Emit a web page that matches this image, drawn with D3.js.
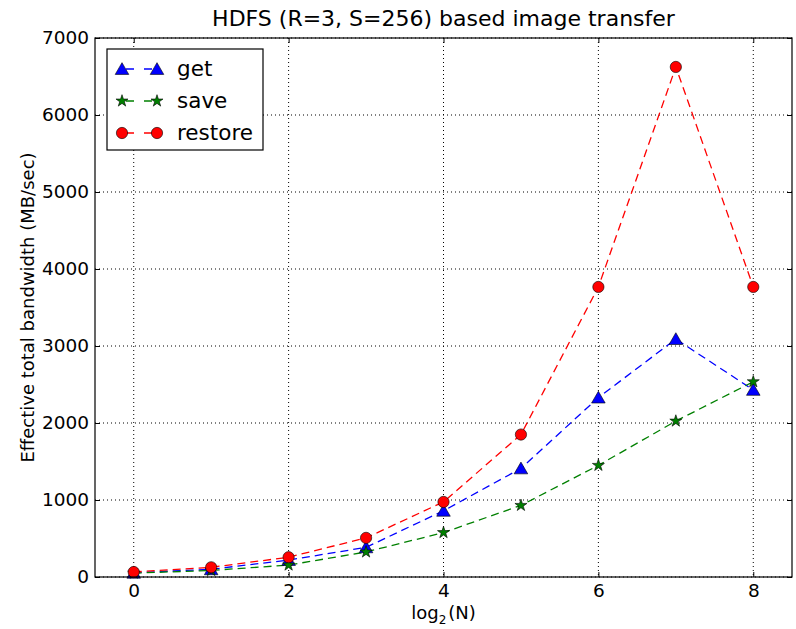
<!DOCTYPE html>
<html>
<head>
<meta charset="utf-8">
<script src="https://cdn.jsdelivr.net/npm/d3@7"></script>
<style>
body { margin: 0; background: #fff; }
text { font-family: "DejaVu Sans", sans-serif; }
</style>
</head>
<body>
<div id="chart"></div>
<script>
// data
var xs = [0, 1, 2, 3, 4, 5, 6, 7, 8];
var getVals = [55, 100, 220, 385, 860, 1410, 2330, 3090, 2430];
var saveVals = [50, 85, 155, 325, 577, 930, 1450, 2025, 2536];
var restoreVals = [65, 126, 257, 508, 975, 1850, 3767, 6624, 3767];
var xTicks = [0, 2, 4, 6, 8];
var yTicks = [0, 1000, 2000, 3000, 4000, 5000, 6000, 7000];

var series = [
    {name: "get", values: getVals, color: "#0000ff", marker: "triangle"},
    {name: "save", values: saveVals, color: "#008000", marker: "star"},
    {name: "restore", values: restoreVals, color: "#ff0000", marker: "circle"}
];

var width = 796, height = 629;
var margin = {left: 95, right: 4, top: 38, bottom: 52};
var iw = width - margin.left - margin.right;
var ih = height - margin.top - margin.bottom;

var svg = d3.select("#chart").append("svg")
    .attr("width", width)
    .attr("height", height);

var x = d3.scaleLinear().domain([-0.5, 8.5]).range([0, iw]);
var y = d3.scaleLinear().domain([0, 7000]).range([ih, 0]);

var g = svg.append("g")
    .attr("transform", "translate(" + margin.left + "," + margin.top + ")");

// grid
g.selectAll(".vgrid").data(xTicks).enter().append("line")
    .attr("x1", function(d) { return x(d); }).attr("x2", function(d) { return x(d); })
    .attr("y1", 0).attr("y2", ih)
    .attr("stroke", "#000").attr("stroke-width", 1).attr("stroke-dasharray", "1,3");
g.selectAll(".hgrid").data(yTicks).enter().append("line")
    .attr("y1", function(d) { return y(d); }).attr("y2", function(d) { return y(d); })
    .attr("x1", 0).attr("x2", iw)
    .attr("stroke", "#000").attr("stroke-width", 1).attr("stroke-dasharray", "1,3");

// axes with inward ticks on all sides
var fmt = d3.format("d");
var xAxisB = d3.axisBottom(x).tickValues(xTicks).tickFormat(fmt).tickSizeInner(-5).tickSizeOuter(0).tickPadding(7);
var xAxisT = d3.axisTop(x).tickValues(xTicks).tickSizeInner(-5).tickSizeOuter(0).tickFormat("");
var yAxisL = d3.axisLeft(y).tickValues(yTicks).tickFormat(fmt).tickSizeInner(-5).tickSizeOuter(0).tickPadding(6);
var yAxisR = d3.axisRight(y).tickValues(yTicks).tickSizeInner(-5).tickSizeOuter(0).tickFormat("");

function styleAxis(sel) {
    sel.select(".domain").remove();
    sel.selectAll("text").attr("font-size", 18.5).attr("fill", "#000")
        .style("font-family", "DejaVu Sans");
    sel.selectAll("line").attr("stroke", "#000");
}
g.append("g").attr("transform", "translate(0," + ih + ")").call(xAxisB).call(styleAxis);
g.append("g").call(xAxisT).call(styleAxis);
g.append("g").call(yAxisL).call(styleAxis);
g.append("g").attr("transform", "translate(" + iw + ",0)").call(yAxisR).call(styleAxis);

// lines
var line = d3.line()
    .x(function(d, i) { return x(xs[i]); })
    .y(function(d) { return y(d); });

function markerPath(m) {
    return m === "triangle" ? d3.symbol().type(d3.symbolTriangle).size(80)() :
           m === "star" ? d3.symbol().type(d3.symbolStar).size(45)() :
           d3.symbol().type(d3.symbolCircle).size(100)();
}

series.forEach(function(s) {
    g.append("path")
        .datum(s.values)
        .attr("d", line)
        .attr("fill", "none")
        .attr("stroke", s.color)
        .attr("stroke-width", 1.3)
        .attr("stroke-dasharray", "8,5");
});
series.forEach(function(s) {
    g.selectAll(".m-" + s.name).data(s.values).enter().append("path")
        .attr("transform", function(d, i) {
            var dy = s.marker === "triangle" ? 1.5 : 0;
            return "translate(" + x(xs[i]) + "," + (y(d) + dy) + ")";
        })
        .attr("d", markerPath(s.marker))
        .attr("fill", s.color)
        .attr("stroke", "#000")
        .attr("stroke-width", 0.6);
});

// frame
g.append("rect").attr("width", iw).attr("height", ih)
    .attr("fill", "none").attr("stroke", "#000").attr("stroke-width", 1.2);

// legend
var leg = g.append("g").attr("transform", "translate(12,11)");
leg.append("rect").attr("width", 156).attr("height", 101)
    .attr("fill", "#fff").attr("stroke", "#000").attr("stroke-width", 1.2);
series.forEach(function(s, i) {
    var ly = 20 + i * 32;
    leg.append("line").attr("x1", 15).attr("x2", 50).attr("y1", ly).attr("y2", ly)
        .attr("stroke", s.color).attr("stroke-width", 1.3).attr("stroke-dasharray", "8,10")
        .attr("stroke-dashoffset", -4);
    [15, 50].forEach(function(px) {
        leg.append("path")
            .attr("transform", "translate(" + px + "," + (ly + (s.marker === "triangle" ? 1.5 : 0)) + ")")
            .attr("d", markerPath(s.marker))
            .attr("fill", s.color).attr("stroke", "#000").attr("stroke-width", 0.6);
    });
    leg.append("text").attr("x", 70).attr("y", ly + 7)
        .attr("font-size", 21.5).text(s.name);
});

// title and labels
svg.append("text").attr("x", margin.left + iw / 2).attr("y", 26)
    .attr("text-anchor", "middle").attr("font-size", 22)
    .text("HDFS (R=3, S=256) based image transfer");

var xl = svg.append("text").attr("x", margin.left + iw / 2).attr("y", 619)
    .attr("text-anchor", "middle").attr("font-size", 18);
xl.append("tspan").text("log");
xl.append("tspan").attr("font-size", 12).attr("dy", 5).text("2");
xl.append("tspan").attr("dy", -5).attr("dx", 2).text("(N)");

svg.append("text")
    .attr("transform", "translate(34," + (margin.top + ih / 2) + ") rotate(-90)")
    .attr("text-anchor", "middle").attr("font-size", 18)
    .text("Effective total bandwidth (MB/sec)");
</script>
</body>
</html>
